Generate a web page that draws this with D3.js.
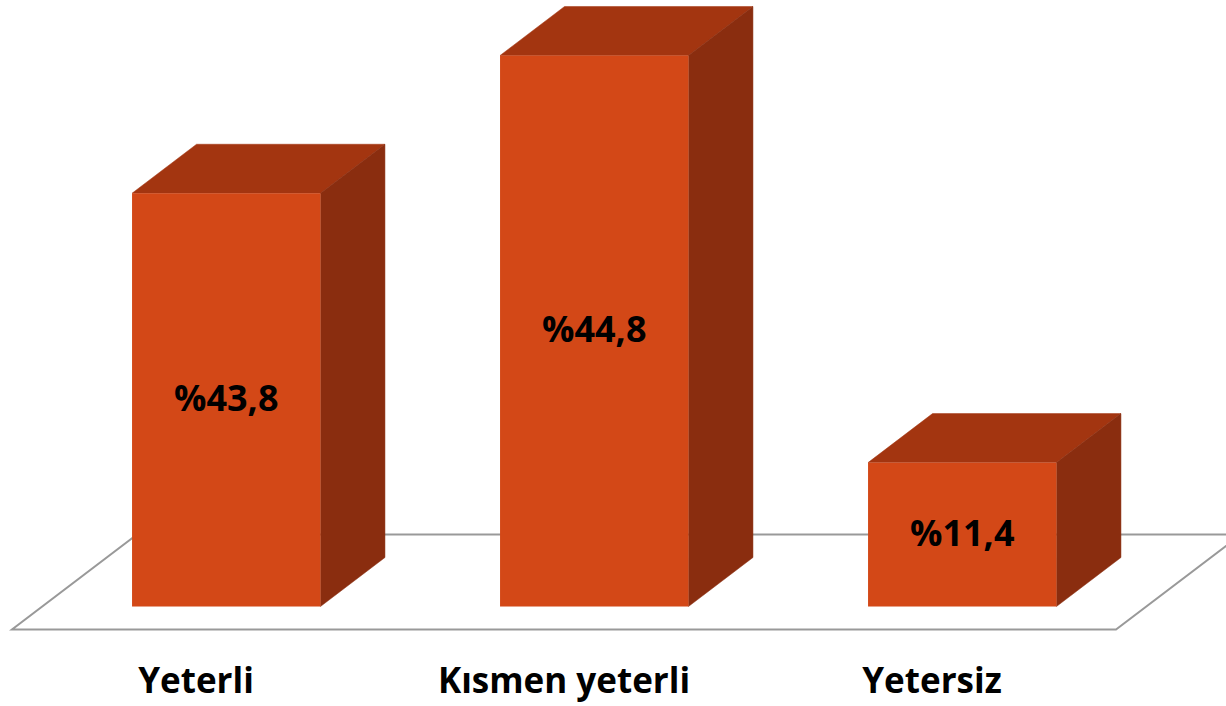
<!DOCTYPE html>
<html lang="tr">
<head>
    <meta charset="UTF-8">
    <title>Yeterlilik 3D Bar Chart</title>
    <script src="https://d3js.org/d3.v7.min.js"></script>
    <style>
        html, body { margin: 0; padding: 0; background: #fff; }
        text { font-family: "Open Sans", Lato, sans-serif; font-weight: bold; fill: #000; }
    </style>
</head>
<body>
<div id="chart"></div>
<script>
  // Data
  const categories = ["Yeterli", "Kısmen yeterli", "Yetersiz"];
  const barValues = [33.6, 44.8, 11.7];          // bar heights as drawn
  const valueLabels = ["%43,8", "%44,8", "%11,4"]; // labels printed on the bars

  const W = 1226, H = 706;

  // floor geometry (front edge + depth vector)
  const floorLeft = 12, floorRight = 1116, floorFront = 629.5;
  const depthX = 125, depthY = -95;
  const barNear = 0.242, barFar = 0.758;   // bars sit in the middle of the floor depth

  const svg = d3.select("#chart")
    .append("svg")
      .attr("width", W)
      .attr("height", H);

  const x = d3.scaleBand()
    .domain(categories)
    .range([floorLeft, floorRight])
    .paddingInner(0.488)
    .paddingOuter(0.244);

  const y = d3.scaleLinear()
    .domain([0, 44.8])
    .range([0, 551]);

  // floor outline
  const floor = d3.path();
  floor.moveTo(floorLeft, floorFront);
  floor.lineTo(floorRight, floorFront);
  floor.lineTo(floorRight + depthX, floorFront + depthY);
  floor.lineTo(floorLeft + depthX, floorFront + depthY);
  floor.closePath();

  svg.append("path")
    .attr("d", floor.toString())
    .attr("fill", "none")
    .attr("stroke", "#999")
    .attr("stroke-width", 2);

  const bw = x.bandwidth();
  const ox = barNear * depthX, oy = barNear * depthY;          // front face offset
  const dx = (barFar - barNear) * depthX, dy = (barFar - barNear) * depthY;
  const base = floorFront + oy;

  const bars = svg.selectAll("g.bar")
    .data(categories.map((c, i) => ({ c, v: barValues[i], label: valueLabels[i] })))
    .join("g")
      .attr("class", "bar");

  const pts = a => a.map(p => p.join(",")).join(" ");

  // top face
  bars.append("polygon")
    .attr("points", d => {
      const x0 = x(d.c) + ox, top = base - y(d.v);
      return pts([[x0, top], [x0 + bw, top], [x0 + bw + dx, top + dy], [x0 + dx, top + dy]]);
    })
    .attr("fill", "#A33510")
    .attr("stroke", "#A33510")
    .attr("stroke-width", 0.5);

  // side face
  bars.append("polygon")
    .attr("points", d => {
      const x1 = x(d.c) + ox + bw, top = base - y(d.v);
      return pts([[x1, top], [x1 + dx, top + dy], [x1 + dx, base + dy], [x1, base]]);
    })
    .attr("fill", "#8A2D0F")
    .attr("stroke", "#8A2D0F")
    .attr("stroke-width", 0.5);

  // front face
  bars.append("rect")
    .attr("x", d => x(d.c) + ox)
    .attr("y", d => base - y(d.v))
    .attr("width", bw)
    .attr("height", d => y(d.v))
    .attr("fill", "#D34817");

  // value labels on the front face
  bars.append("text")
    .attr("x", d => x(d.c) + ox + bw / 2)
    .attr("y", d => base - y(d.v) / 2 + 11)
    .attr("text-anchor", "middle")
    .style("font-size", "36px")
    .text(d => d.label);

  // category labels
  svg.selectAll("text.cat")
    .data(categories)
    .join("text")
      .attr("class", "cat")
      .attr("x", d => x(d) + bw / 2)
      .attr("y", 693)
      .attr("text-anchor", "middle")
      .style("font-size", "35px")
      .text(d => d);
</script>
</body>
</html>
